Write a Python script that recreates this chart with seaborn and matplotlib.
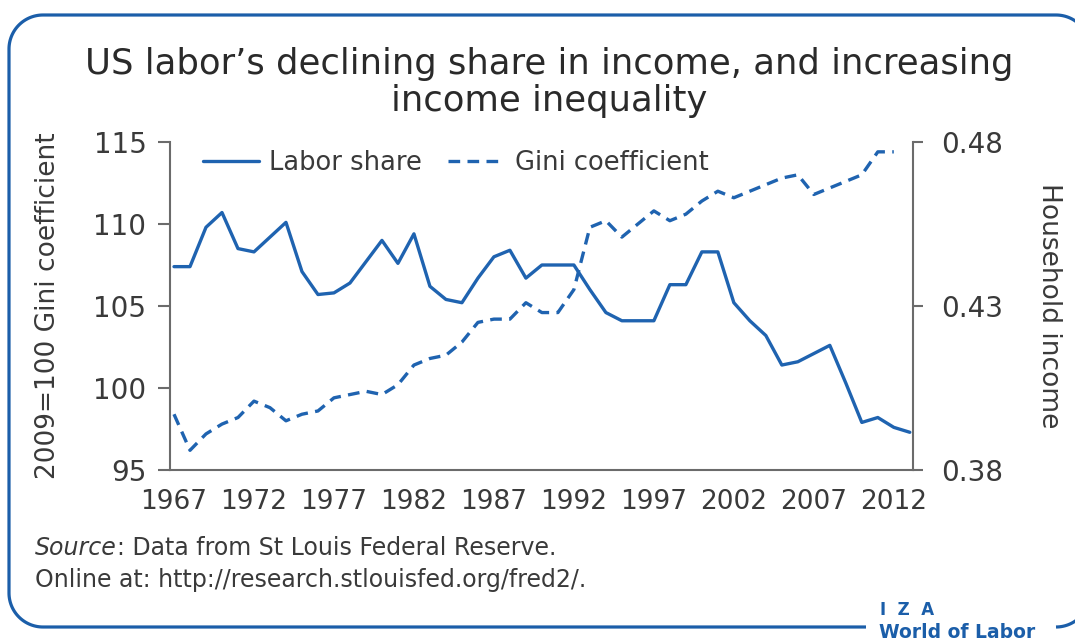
import numpy as np
import pandas as pd
import matplotlib.pyplot as plt
import seaborn as sns
from matplotlib.patches import Rectangle
from matplotlib.ticker import FormatStrFormatter

# 圖上讀出的數值
years = list(range(1967, 2014))
labor_share = [107.4, 107.4, 109.8, 110.7, 108.5, 108.3, 109.2, 110.1, 107.1, 105.7,
               105.8, 106.4, 107.7, 109.0, 107.6, 109.4, 106.2, 105.4, 105.2, 106.7,
               108.0, 108.4, 106.7, 107.5, 107.5, 107.5, 106.0, 104.6, 104.1, 104.1,
               104.1, 106.3, 106.3, 108.3, 108.3, 105.2, 104.1, 103.2, 101.4, 101.6,
               102.1, 102.6, 100.3, 97.9, 98.2, 97.6, 97.3]

gini_years = list(range(1967, 2013))
gini = [0.397, 0.386, 0.391, 0.394, 0.396, 0.401, 0.399, 0.395, 0.397, 0.398,
        0.402, 0.403, 0.404, 0.403, 0.406, 0.412, 0.414, 0.415, 0.419, 0.425,
        0.426, 0.426, 0.431, 0.428, 0.428, 0.435, 0.454, 0.456, 0.451, 0.455,
        0.459, 0.456, 0.458, 0.462, 0.465, 0.463, 0.465, 0.467, 0.469, 0.470,
        0.464, 0.466, 0.468, 0.470, 0.477, 0.477]

left_ticks = [95, 100, 105, 110, 115]
right_ticks = [0.38, 0.43, 0.48]
year_ticks = list(range(1967, 2013, 5))

title_lines = ["US labor\u2019s declining share in income, and increasing",
               "income inequality"]
left_label = "2009=100 Gini coefficient"
right_label = "Household income"
source_word = "Source"
source_rest = ": Data from St Louis Federal Reserve."
online_line = "Online at: http://research.stlouisfed.org/fred2/."

sns.set_theme(style="white")
plt.rcParams['font.family'] = ['DejaVu Sans']

BLUE = '#1f63b0'
FRAME = '#1b5ea9'
SPINE = '#6b6b6b'
TEXT = '#3a3a3a'
TITLE = '#2a2a2a'

W, H = 1075, 641
fig = plt.figure(figsize=(W / 100, H / 100), dpi=100)


def rounded_frame(left, top, right, bottom, r, gap_x, n=30):
    # 開放的圓角框線，從底部缺口左端開始，順時針繞到右下角
    def arc(cx, cy, t0, t1):
        t = np.radians(np.linspace(t0, t1, n))
        return cx + r * np.cos(t), cy + r * np.sin(t)

    xs, ys = [gap_x], [bottom]
    for cx, cy, t0, t1 in [(left + r, bottom - r, 90, 180),
                           (left + r, top + r, 180, 270),
                           (right - r, top + r, 270, 360),
                           (right - r, bottom - r, 0, 90)]:
        ax_, ay_ = arc(cx, cy, t0, t1)
        xs.extend(ax_)
        ys.extend(ay_)
    return xs, ys


# 外框（像素座標），右邊超出畫面
bg = fig.add_axes([0, 0, 1, 1], zorder=0)
bg.set_xlim(0, W)
bg.set_ylim(H, 0)
bg.axis('off')
fx, fy = rounded_frame(9, 15, 1090, 627, 34, 866)
bg.plot(fx, fy, color=FRAME, linewidth=2.3, solid_capstyle='butt')
bg.text(880, 610, 'I  Z  A', color=FRAME, fontsize=12, fontweight='bold', va='center', ha='left')
bg.text(879, 633, 'World of Labor', color=FRAME, fontsize=13.5, fontweight='bold', va='center', ha='left')

# 標題
bg.text(549, 64, title_lines[0], fontsize=25.5, color=TITLE, ha='center', va='center')
bg.text(549, 101, title_lines[1], fontsize=25.5, color=TITLE, ha='center', va='center')

# 資料來源
src = bg.text(35, 548, source_word, fontsize=17, color=TEXT, style='italic', ha='left', va='center')
bg.annotate(source_rest, xy=(1, 0.5), xycoords=src, fontsize=17, color=TEXT, ha='left', va='center')
bg.text(35, 580, online_line, fontsize=17, color=TEXT, ha='left', va='center')

# 主圖
ax = fig.add_axes([170 / W, 1 - 470 / H, 743 / W, 328 / H], zorder=1)
ax.patch.set_alpha(0)
ax2 = ax.twinx()

labor_df = pd.DataFrame({'year': years, 'value': labor_share})
gini_df = pd.DataFrame({'year': gini_years, 'value': gini})

sns.lineplot(data=labor_df, x='year', y='value', ax=ax, color=BLUE, linewidth=2.4,
             label='Labor share')
sns.lineplot(data=gini_df, x='year', y='value', ax=ax2, color=BLUE, linewidth=2.4,
             linestyle=(0, (3.5, 2.2)), label='Gini coefficient')

ax.set_xlim(1966.75, 2013.2)
ax.set_ylim(95, 115)
ax2.set_ylim(0.38, 0.48)
ax.set_xticks(year_ticks)
ax.set_yticks(left_ticks)
ax2.set_yticks(right_ticks)
ax2.yaxis.set_major_formatter(FormatStrFormatter('%.2f'))

for a in (ax, ax2):
    for s in a.spines.values():
        s.set_color(SPINE)
        s.set_linewidth(1.5)
    a.spines['top'].set_visible(False)
ax.spines['right'].set_visible(False)
ax2.spines['left'].set_visible(False)
ax2.spines['bottom'].set_visible(False)

ax.tick_params(axis='y', left=True, length=9, width=1.5, color=SPINE, pad=8,
               labelsize=20, labelcolor=TEXT)
ax.tick_params(axis='x', bottom=False, length=0, pad=14, labelsize=19, labelcolor=TEXT)
ax2.tick_params(axis='y', right=True, length=7, width=1.5, color=SPINE, pad=13,
                labelsize=20, labelcolor=TEXT)

ax.set_xlabel('')
ax.set_ylabel(left_label, fontsize=19, color=TEXT, va='center', ha='center')
ax.yaxis.set_label_coords(-0.164, 0.5)
ax2.set_ylabel(right_label, fontsize=19, color=TEXT, rotation=270, va='center', ha='center')
ax2.yaxis.set_label_coords(1.183, 0.5)

# 圖例
h1, l1 = ax.get_legend_handles_labels()
h2, l2 = ax2.get_legend_handles_labels()
if ax.get_legend() is not None:
    ax.get_legend().remove()
if ax2.get_legend() is not None:
    ax2.get_legend().remove()
ax2.legend(h1 + h2, l1 + l2, loc='center left', bbox_to_anchor=(0.044, 0.936),
           ncol=2, frameon=False, fontsize=18.5, handlelength=2.2, handletextpad=0.4,
           columnspacing=1.0, borderpad=0, borderaxespad=0, labelcolor=TEXT)

fig.savefig('out.png', dpi=100)
